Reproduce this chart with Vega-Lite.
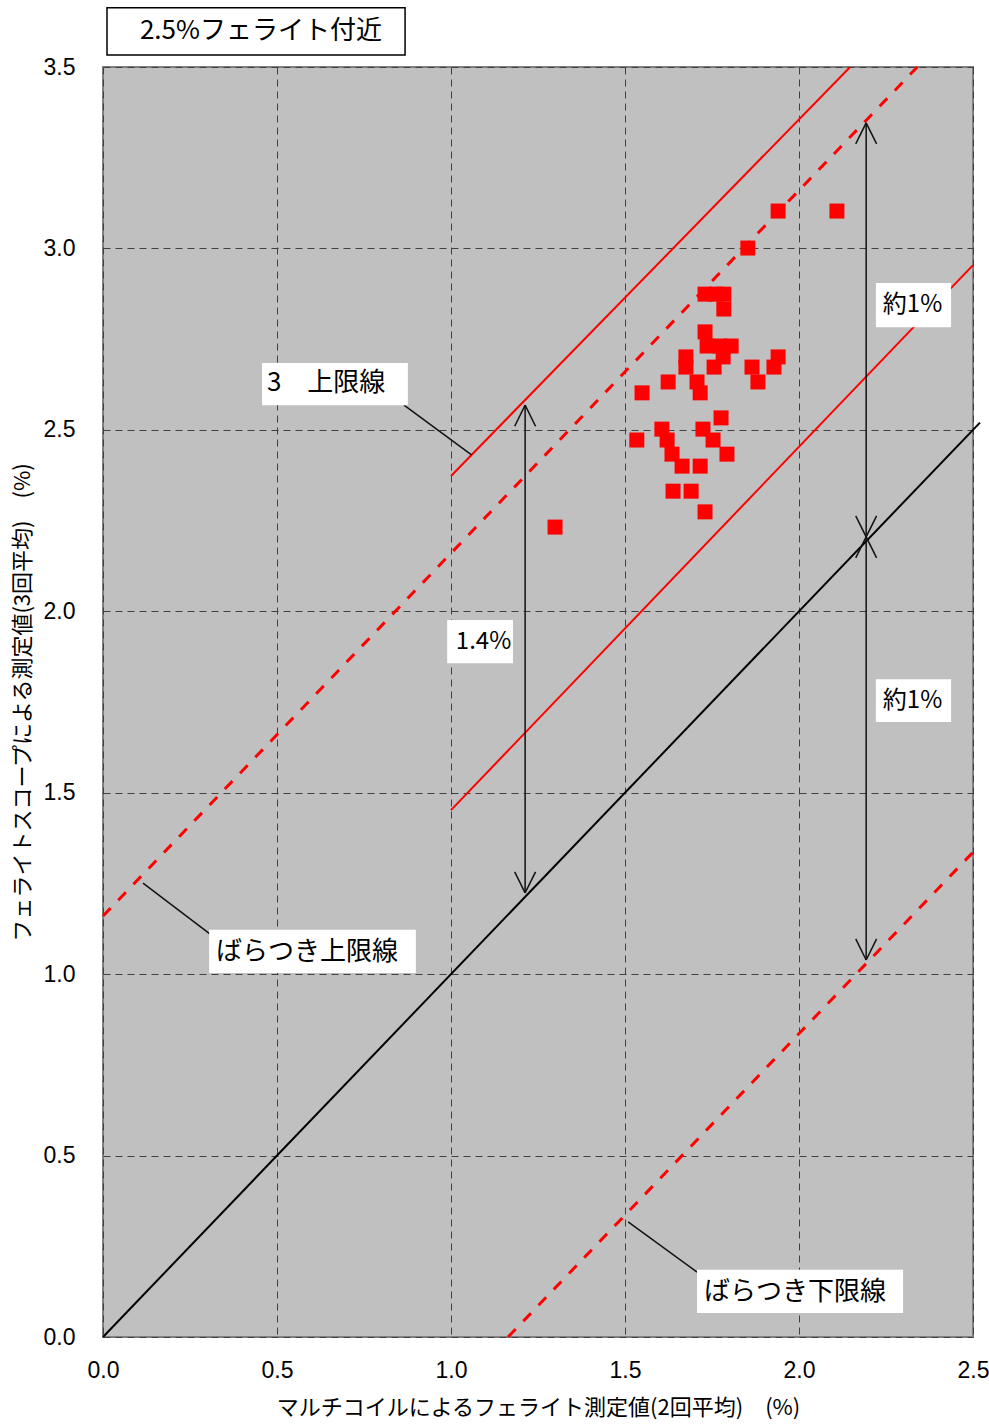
{
  "$schema": "https://vega.github.io/schema/vega-lite/v6.json",
  "width": 870,
  "height": 1270,
  "autosize": "none",
  "padding": {"left": 103, "top": 67, "right": 16, "bottom": 87},
  "background": "white",
  "config": {
    "view": {"fill": "#C0C0C0", "stroke": "#808080", "strokeWidth": 2}
  },
  "datasets": {
    "points": [
      {"x": 1.299, "y": 2.232}, {"x": 1.534, "y": 2.472}, {"x": 1.549, "y": 2.602},
      {"x": 1.624, "y": 2.632}, {"x": 1.606, "y": 2.502}, {"x": 1.621, "y": 2.472},
      {"x": 1.635, "y": 2.433}, {"x": 1.664, "y": 2.400}, {"x": 1.716, "y": 2.400},
      {"x": 1.638, "y": 2.331}, {"x": 1.690, "y": 2.331}, {"x": 1.730, "y": 2.274},
      {"x": 1.776, "y": 2.533}, {"x": 1.724, "y": 2.502}, {"x": 1.753, "y": 2.472},
      {"x": 1.793, "y": 2.433}, {"x": 1.675, "y": 2.701}, {"x": 1.675, "y": 2.673},
      {"x": 1.707, "y": 2.632}, {"x": 1.716, "y": 2.602}, {"x": 1.730, "y": 2.874},
      {"x": 1.761, "y": 2.874}, {"x": 1.784, "y": 2.874}, {"x": 1.784, "y": 2.833},
      {"x": 1.730, "y": 2.770}, {"x": 1.736, "y": 2.731}, {"x": 1.773, "y": 2.731},
      {"x": 1.805, "y": 2.731}, {"x": 1.782, "y": 2.701}, {"x": 1.756, "y": 2.673},
      {"x": 1.865, "y": 2.673}, {"x": 1.882, "y": 2.632}, {"x": 1.940, "y": 2.701},
      {"x": 1.928, "y": 2.673}, {"x": 1.853, "y": 3.001}, {"x": 1.940, "y": 3.103},
      {"x": 2.109, "y": 3.103}
    ],
    "diag": [{"x": 0, "y": 0, "x2": 2.52, "y2": 2.52}],
    "redSolid": [
      {"x": 1.0, "y": 2.373, "x2": 2.147, "y2": 3.5},
      {"x": 1.0, "y": 1.452, "x2": 2.5, "y2": 2.954}
    ],
    "redDash": [
      {"x": 0, "y": 1.16, "x2": 2.34, "y2": 3.5},
      {"x": 1.164, "y": 0, "x2": 2.52, "y2": 1.356}
    ],
    "thin": [
      {"x": 0.865, "y": 2.568, "x2": 1.059, "y2": 2.431},
      {"x": 0.115, "y": 1.251, "x2": 0.307, "y2": 1.111},
      {"x": 1.509, "y": 0.317, "x2": 1.707, "y2": 0.179},
      {"x": 1.213, "y": 2.568, "x2": 1.213, "y2": 1.224},
      {"x": 1.213, "y": 2.568, "x2": 1.183, "y2": 2.510},
      {"x": 1.213, "y": 2.568, "x2": 1.243, "y2": 2.510},
      {"x": 1.213, "y": 1.224, "x2": 1.183, "y2": 1.282},
      {"x": 1.213, "y": 1.224, "x2": 1.243, "y2": 1.282},
      {"x": 2.193, "y": 3.346, "x2": 2.193, "y2": 1.039},
      {"x": 2.193, "y": 3.346, "x2": 2.163, "y2": 3.288},
      {"x": 2.193, "y": 3.346, "x2": 2.223, "y2": 3.288},
      {"x": 2.193, "y": 2.205, "x2": 2.163, "y2": 2.263},
      {"x": 2.193, "y": 2.205, "x2": 2.223, "y2": 2.263},
      {"x": 2.193, "y": 2.205, "x2": 2.163, "y2": 2.147},
      {"x": 2.193, "y": 2.205, "x2": 2.223, "y2": 2.147},
      {"x": 2.193, "y": 1.039, "x2": 2.163, "y2": 1.097},
      {"x": 2.193, "y": 1.039, "x2": 2.223, "y2": 1.097}
    ],
    "boxes": [
      {"x": 0.457, "y": 2.684, "x2": 0.876, "y2": 2.568},
      {"x": 0.305, "y": 1.122, "x2": 0.899, "y2": 1.003},
      {"x": 1.707, "y": 0.185, "x2": 2.299, "y2": 0.066},
      {"x": 0.989, "y": 1.976, "x2": 1.178, "y2": 1.857},
      {"x": 2.221, "y": 2.905, "x2": 2.437, "y2": 2.783},
      {"x": 2.221, "y": 1.813, "x2": 2.437, "y2": 1.695}
    ],
    "titleBox": [{"x": 0.0115, "y": 3.533, "x2": 0.868, "y2": 3.663}],
    "labels": [
      {"x": 0.471, "y": 2.630, "text": "3　上限線"},
      {"x": 0.325, "y": 1.062, "text": "ばらつき上限線"},
      {"x": 1.727, "y": 0.125, "text": "ばらつき下限線"},
      {"x": 0.106, "y": 3.598, "text": "2.5%フェライト付近"}
    ],
    "numLabels": [
      {"x": 1.014, "y": 1.916, "text": "1.4%"},
      {"x": 2.241, "y": 2.845, "text": "約1%"},
      {"x": 2.241, "y": 1.753, "text": "約1%"}
    ]
  },
  "encoding": {
    "x": {
      "field": "x", "type": "quantitative",
      "scale": {"domain": [0, 2.5], "nice": false, "zero": false},
      "title": "マルチコイルによるフェライト測定値(2回平均)　(%)",
      "axis": {
        "values": [0, 0.5, 1, 1.5, 2, 2.5], "format": ".1f",
        "ticks": false, "domain": false, "labelPadding": 22, "labelFlush": false,
        "labelFont": "Liberation Sans", "labelFontSize": 23, "labelColor": "black",
        "grid": true, "gridColor": "#404040", "gridDash": [7, 5], "gridWidth": 1,
        "titleFont": "Noto Sans CJK JP", "titleFontSize": 22, "titleFontWeight": "normal",
        "titleColor": "black", "titleY": 70, "titleBaseline": "middle"
      }
    },
    "y": {
      "field": "y", "type": "quantitative",
      "scale": {"domain": [0, 3.5], "nice": false, "zero": false},
      "title": "フェライトスコープによる測定値(3回平均)　(%)",
      "axis": {
        "values": [0, 0.5, 1, 1.5, 2, 2.5, 3, 3.5], "format": ".1f",
        "ticks": false, "domain": false, "labelPadding": 28, "labelFlush": false,
        "labelFont": "Liberation Sans", "labelFontSize": 23, "labelColor": "black",
        "grid": true, "gridColor": "#404040", "gridDash": [7, 5], "gridWidth": 1,
        "titleFont": "Noto Sans CJK JP", "titleFontSize": 22, "titleFontWeight": "normal",
        "titleColor": "black", "titleX": -81, "titleBaseline": "middle"
      }
    }
  },
  "layer": [
    {
      "data": {"name": "diag"},
      "mark": {"type": "rule", "color": "black", "strokeWidth": 2},
      "encoding": {"x2": {"field": "x2"}, "y2": {"field": "y2"}}
    },
    {
      "data": {"name": "redSolid"},
      "mark": {"type": "rule", "color": "#FF0000", "strokeWidth": 2},
      "encoding": {"x2": {"field": "x2"}, "y2": {"field": "y2"}}
    },
    {
      "data": {"name": "redDash"},
      "mark": {"type": "rule", "color": "#FF0000", "strokeWidth": 3, "strokeDash": [11, 11]},
      "encoding": {"x2": {"field": "x2"}, "y2": {"field": "y2"}}
    },
    {
      "data": {"name": "thin"},
      "mark": {"type": "rule", "color": "#111111", "strokeWidth": 1.5},
      "encoding": {"x2": {"field": "x2"}, "y2": {"field": "y2"}}
    },
    {
      "data": {"name": "points"},
      "mark": {"type": "point", "shape": "square", "filled": true, "size": 225, "color": "#FF0000", "opacity": 1}
    },
    {
      "data": {"name": "boxes"},
      "mark": {"type": "rect", "fill": "white"},
      "encoding": {"x2": {"field": "x2"}, "y2": {"field": "y2"}}
    },
    {
      "data": {"name": "titleBox"},
      "mark": {"type": "rect", "fill": "white", "stroke": "black", "strokeWidth": 1.5},
      "encoding": {"x2": {"field": "x2"}, "y2": {"field": "y2"}}
    },
    {
      "data": {"name": "labels"},
      "mark": {"type": "text", "align": "left", "baseline": "middle", "font": "Noto Sans CJK JP", "fontSize": 26, "color": "black"},
      "encoding": {"text": {"field": "text"}}
    },
    {
      "data": {"name": "numLabels"},
      "mark": {"type": "text", "align": "left", "baseline": "middle", "font": "Noto Sans CJK JP", "fontSize": 24, "color": "black"},
      "encoding": {"text": {"field": "text"}}
    }
  ]
}
